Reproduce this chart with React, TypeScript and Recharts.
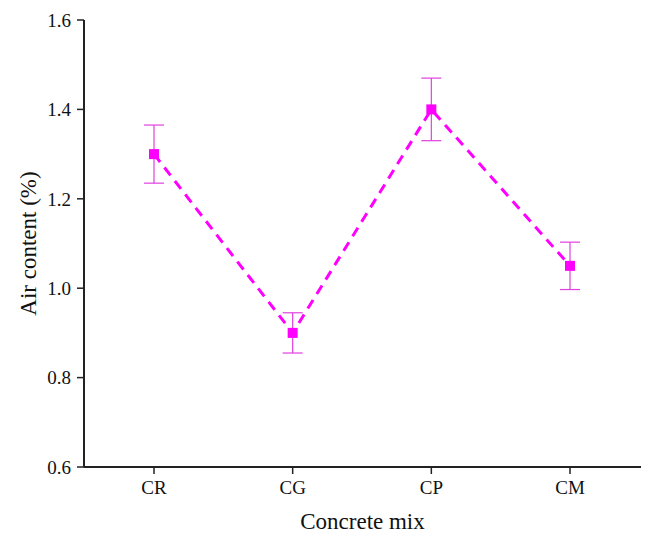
import React from "react";
import { LineChart, Line, XAxis, YAxis, ErrorBar } from "recharts";

const mixes = ["CR", "CG", "CP", "CM"];
const airContent = [1.3, 0.9, 1.4, 1.05];
const airError = [0.065, 0.045, 0.07, 0.053];
const yTicks = [0.6, 0.8, 1.0, 1.2, 1.4, 1.6];

const data = mixes.map((mix, i) => ({
  mix,
  air: airContent[i],
  err: airError[i],
}));

const MAGENTA = "#ff00ff";
const FONT = "'Liberation Serif', 'Times New Roman', serif";

const SquareDot = (props: any) => {
  const { cx, cy, index } = props;
  if (cx == null || cy == null) return null;
  return (
    <rect key={`dot-${index}`} x={cx - 5} y={cy - 5} width={10} height={10} fill={MAGENTA} />
  );
};

const App = () => {
  return (
    <div style={{ position: "absolute", left: 0, top: 0, background: "#fff" }}>
      <LineChart
        width={646}
        height={534}
        data={data}
        margin={{ top: 20, right: 5, left: 0, bottom: 0 }}
      >
        <XAxis
          dataKey="mix"
          padding={{ left: 70, right: 71 }}
          height={67}
          axisLine={{ stroke: "#222", strokeWidth: 2 }}
          tickLine={{ stroke: "#222", strokeWidth: 1.5 }}
          tickSize={7}
          tickMargin={7}
          tick={{ fill: "#111", fontSize: 19, fontFamily: FONT }}
          label={{
            value: "Concrete mix",
            position: "insideBottom",
            offset: 5,
            fill: "#111",
            fontSize: 23,
            fontFamily: FONT,
          }}
        />
        <YAxis
          type="number"
          domain={[0.6, 1.6]}
          ticks={yTicks}
          width={84}
          allowDataOverflow
          axisLine={{ stroke: "#222", strokeWidth: 2 }}
          tickLine={{ stroke: "#222", strokeWidth: 1.5 }}
          tickSize={7}
          tickMargin={6}
          tickFormatter={(v: number) => v.toFixed(1)}
          tick={{ fill: "#111", fontSize: 19, fontFamily: FONT }}
          label={{
            value: "Air content (%)",
            angle: -90,
            position: "insideLeft",
            offset: 28,
            style: { textAnchor: "middle" },
            fill: "#111",
            fontSize: 23,
            fontFamily: FONT,
          }}
        />
        <Line
          type="linear"
          dataKey="air"
          stroke={MAGENTA}
          strokeWidth={3}
          strokeDasharray="10 7"
          dot={<SquareDot />}
          activeDot={false}
          isAnimationActive={false}
        >
          <ErrorBar
            dataKey="err"
            direction="y"
            width={10}
            stroke="#e040e0"
            strokeWidth={1.2}
          />
        </Line>
      </LineChart>
    </div>
  );
};

export default App;
